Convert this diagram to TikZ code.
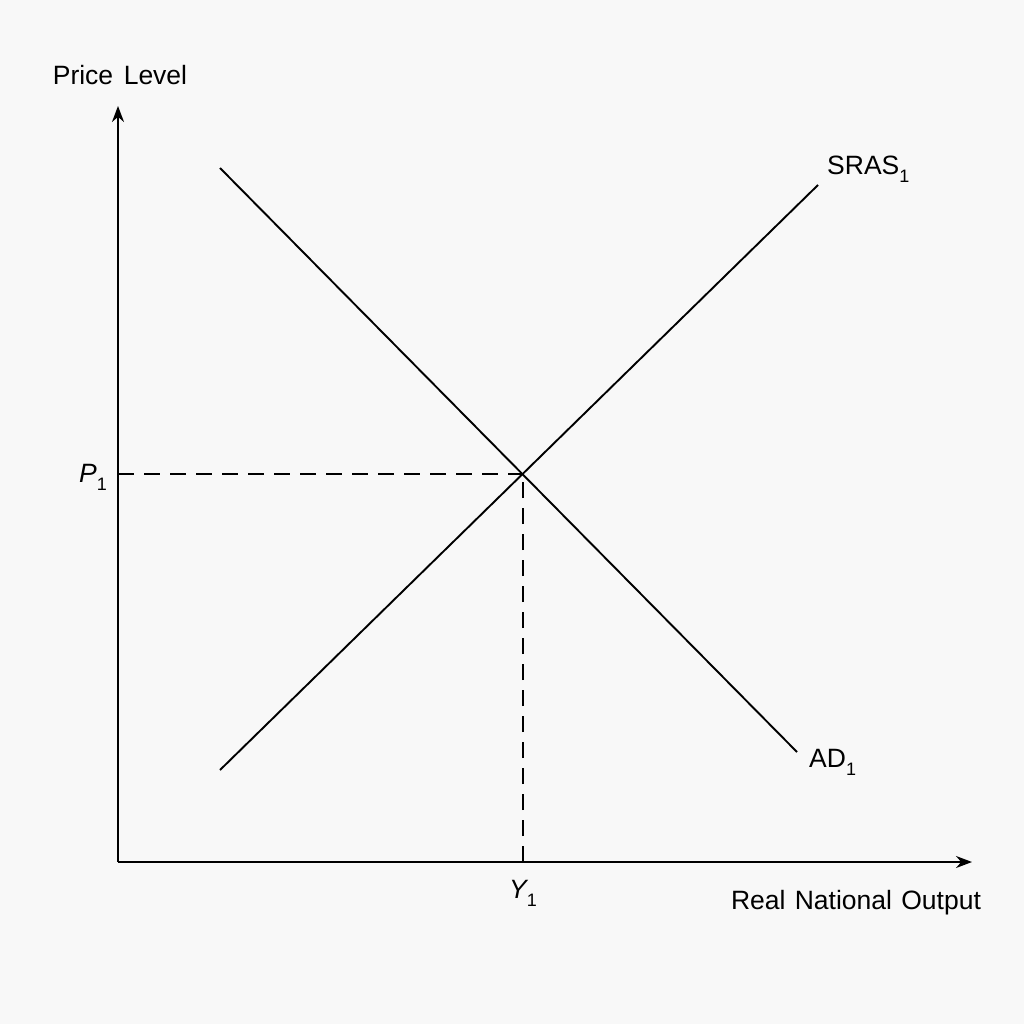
\documentclass[tikz,border=0pt]{standalone}
\usepackage{fontspec}
\setmainfont{Liberation Sans}
\usetikzlibrary{arrows.meta}
\newcommand{\mysub}[1]{\raisebox{-0.3em}{\fontsize{18}{18}\selectfont\upshape #1}}
\begin{document}
\begin{tikzpicture}[x=1pt,y=-1pt,
  axis/.style={line width=2pt,-{Stealth[length=16pt,width=12pt]}},
  curve/.style={line width=1.9pt},
  guide/.style={line width=1.7pt,dash pattern=on 16pt off 10pt},
  lbl/.style={font=\fontsize{26.5}{30}\selectfont,inner sep=0pt}]
\fill[fill={rgb,255:red,248;green,248;blue,248}] (0,0) rectangle (1024,1024);
\useasboundingbox (0,0) rectangle (1024,1024);
\coordinate (O) at (118,862);
\coordinate (ytop) at (118,106);
\coordinate (xend) at (972,862);
\coordinate (ad0) at (220,168);
\coordinate (ad1) at (797,752);
\coordinate (as0) at (220,770);
\coordinate (as1) at (818,185);
\coordinate (E) at (523,474);
\coordinate (pax) at (118,474);
\coordinate (yax) at (523,862);
\draw[axis] (O) -- (ytop);
\draw[axis] (O) -- (xend);
\draw[curve] (ad0) -- (ad1);
\draw[curve] (as0) -- (as1);
\draw[guide] (pax) -- (E);
\draw[guide] (yax) -- (E);
\node[lbl] (plabel) at (120,75) {Price\hspace{0.4em}Level};
\node[lbl] (xlabel) at (856,903) {Real\hspace{0.35em}National\hspace{0.35em}Output};
\node[lbl,anchor=west] (sras) at (827,169) {SRAS\mysub{1}};
\node[lbl,anchor=west] (ad) at (809,762) {AD\mysub{1}};
\node[lbl] (p1) at (93,477) {\itshape P\mysub{1}};
\node[lbl] (y1) at (523,893) {\itshape Y\mysub{1}};
\end{tikzpicture}
\end{document}
